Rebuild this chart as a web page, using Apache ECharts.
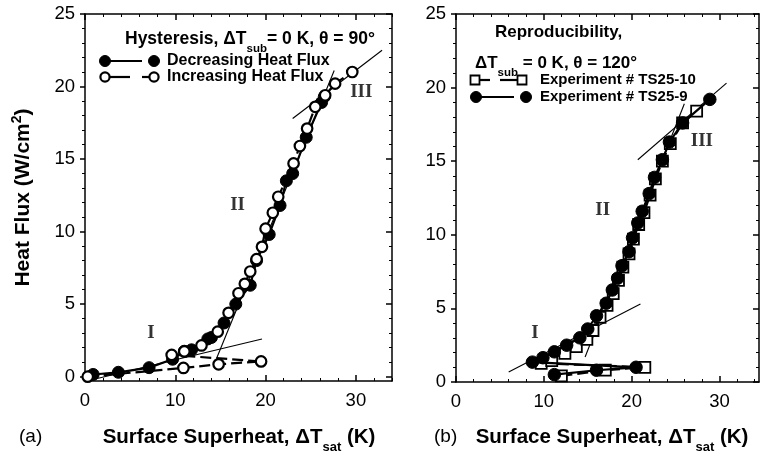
<!DOCTYPE html>
<html><head><meta charset="utf-8">
<script src="https://cdn.jsdelivr.net/npm/echarts@6/dist/echarts.min.js"></script>
<style>html,body{margin:0;padding:0;background:#fff}#c{width:763px;height:456px}</style>
</head><body><div id="c"></div>
<script>
// ---------- data ----------
const xTicks = [0, 10, 20, 30];
const xMinorTicks = [2, 4, 6, 8, 12, 14, 16, 18, 22, 24, 26, 28, 32, 34];
const yTicks = [0, 5, 10, 15, 20, 25];
const yMinorTicks = [1, 2, 3, 4, 6, 7, 8, 9, 11, 12, 13, 14, 16, 17, 18, 19, 21, 22, 23, 24];

// (a) Hysteresis
const decreasingHF = [[26.5,19.3],[26.2,18.9],[24.5,16.5],[23.0,14.0],[22.3,13.5],[21.6,11.8],[20.4,9.8],[19.0,8.0],[18.3,6.3],[16.7,5.0],[15.4,3.7],[14.0,2.7],[13.6,2.6],[11.8,1.85],[11.0,1.75],[9.7,1.2],[7.1,0.62],[3.7,0.3],[0.9,0.15]];
const increasingHF = [[0.3,0.0],[10.9,0.6],[14.8,0.85],[19.5,1.05],[9.6,1.5],[11.0,1.74],[12.9,2.15],[14.7,3.1],[15.9,4.4],[17.0,5.75],[17.7,6.4],[18.3,7.25],[19.0,8.1],[19.6,8.95],[20.0,10.2],[20.8,11.3],[21.4,12.4],[23.1,14.7],[23.8,15.9],[24.6,17.1],[25.5,18.6],[26.6,19.4],[27.7,20.2],[29.6,21.0]];
const fitA_I = [[0.2,-0.3],[19.6,2.6]];
const fitA_II = [[14.6,1.3],[27.6,21.1]];
const fitA_III = [[23.0,17.8],[32.9,22.5]];
const regionLabelsA = [['I',7.3,3.0],['II',16.9,11.8],['III',30.6,19.6]];

// (b) Reproducibility
const ts25_10 = [[12.0,0.42],[17.0,0.8],[21.5,1.0],[9.7,1.27],[10.9,1.45],[12.4,1.95],[13.7,2.4],[14.9,2.9],[15.6,3.5],[16.4,4.4],[17.2,5.2],[17.9,6.0],[18.5,6.9],[19.0,7.8],[19.7,8.7],[20.2,9.7],[20.8,10.7],[21.4,11.5],[22.1,12.7],[22.7,13.8],[23.5,15.0],[24.4,16.2],[25.8,17.6],[27.4,18.4]];
const ts25_9 = [[11.2,0.5],[16.0,0.8],[20.5,1.0],[8.7,1.35],[9.9,1.65],[11.2,2.05],[12.6,2.5],[14.1,3.0],[15.0,3.6],[16.0,4.5],[17.1,5.35],[17.8,6.25],[18.4,7.05],[18.9,7.9],[19.7,8.85],[20.1,9.8],[20.7,10.8],[21.2,11.6],[22.0,12.8],[22.6,13.9],[23.5,15.1],[24.3,16.3],[25.8,17.6],[28.9,19.2]];
const fitB_I = [[6.0,0.68],[21.0,5.3]];
const fitB_II = [[14.7,1.7],[26.0,18.9]];
const fitB_III = [[20.7,15.1],[30.8,20.3]];
const regionLabelsB = [['I',9.0,3.3],['II',16.7,11.7],['III',28.0,16.35]];

// ---------- styling ----------
const FF = '"Liberation Sans", Arial, sans-serif';
const SERIF = '"Liberation Serif", "Times New Roman", serif';
const K = '#000';

function xAxes(g, min, max) {
  const base = {type:'value', gridIndex:g, min:min, max:max, splitLine:{show:false}};
  return [
    Object.assign({}, base, {position:'bottom',
      axisLine:{show:true, onZero:false, lineStyle:{color:K, width:1.5}},
      axisTick:{show:true, inside:true, length:6, customValues:xTicks, lineStyle:{color:K, width:1.5}},
      axisLabel:{show:true, customValues:xTicks, color:K, fontSize:18.5, fontFamily:FF, margin:10}}),
    Object.assign({}, base, {position:'top',
      axisLine:{show:true, onZero:false, lineStyle:{color:K, width:1.5}},
      axisTick:{show:true, inside:true, length:6, customValues:xTicks, lineStyle:{color:K, width:1.5}},
      axisLabel:{show:false}}),
    Object.assign({}, base, {position:'bottom',
      axisLine:{show:false, onZero:false},
      axisTick:{show:true, inside:true, length:3, customValues:xMinorTicks, lineStyle:{color:K, width:1}},
      axisLabel:{show:false}}),
    Object.assign({}, base, {position:'top',
      axisLine:{show:false, onZero:false},
      axisTick:{show:true, inside:true, length:3, customValues:xMinorTicks, lineStyle:{color:K, width:1}},
      axisLabel:{show:false}})
  ];
}
function yAxes(g, min, max, withName) {
  const base = {type:'value', gridIndex:g, min:min, max:max, splitLine:{show:false}};
  const main = Object.assign({}, base, {position:'left',
      axisLine:{show:true, onZero:false, lineStyle:{color:K, width:1.5}},
      axisTick:{show:true, inside:false, length:5, customValues:yTicks, lineStyle:{color:K, width:1.5}},
      axisLabel:{show:true, customValues:yTicks, color:K, fontSize:18.5, fontFamily:FF, margin:10}});
  if (withName) {
    main.name = '{b|Heat Flux (W/cm}{p|2}{b|)}';
    main.nameLocation = 'middle';
    main.nameGap = 48;
    main.nameTextStyle = {rich:{
      b:{fontSize:21, fontWeight:'bold', fontFamily:FF, color:K},
      p:{fontSize:14, fontWeight:'bold', fontFamily:FF, color:K, padding:[0,0,13,0]}
    }};
  }
  return [
    main,
    Object.assign({}, base, {position:'right',
      axisLine:{show:true, onZero:false, lineStyle:{color:K, width:1.5}},
      axisTick:{show:true, inside:true, length:6, customValues:yTicks, lineStyle:{color:K, width:1.5}},
      axisLabel:{show:false}}),
    Object.assign({}, base, {position:'left',
      axisLine:{show:false, onZero:false},
      axisTick:{show:true, inside:false, length:3, customValues:yMinorTicks, lineStyle:{color:K, width:1}},
      axisLabel:{show:false}}),
    Object.assign({}, base, {position:'right',
      axisLine:{show:false, onZero:false},
      axisTick:{show:true, inside:true, length:3, customValues:yMinorTicks, lineStyle:{color:K, width:1}},
      axisLabel:{show:false}})
  ];
}

function dataSeries(ai, data, opt) {
  return {
    type:'line', xAxisIndex:ai, yAxisIndex:ai, data:data, silent:true,
    symbol:opt.symbol, symbolSize:opt.size, showSymbol:true, z:opt.z || 3,
    lineStyle:{color:K, width:2.2, type:opt.dash ? [11,5] : 'solid'},
    itemStyle:{color:opt.fill, borderColor:K, borderWidth:opt.bw}
  };
}
function fitSeries(ai, data) {
  return {type:'line', xAxisIndex:ai, yAxisIndex:ai, data:data, symbol:'none', silent:true, z:2,
    lineStyle:{color:K, width:1.1}};
}
function labelSeries(ai, labels) {
  return {type:'scatter', xAxisIndex:ai, yAxisIndex:ai, silent:true, z:5,
    symbol:'circle', symbolSize:1, itemStyle:{color:'rgba(0,0,0,0)'},
    data: labels.map(l => ({name:l[0], value:[l[1], l[2]]})),
    label:{show:true, position:'inside', formatter:'{b}', color:K, fontFamily:SERIF, fontWeight:'bold', fontSize:19}};
}

const richT = {
  b:{fontSize:17.5, fontWeight:'bold', fontFamily:FF, fill:K},
  s:{fontSize:11.5, fontWeight:'bold', fontFamily:FF, fill:K, padding:[20,0,0,0]}
};
const richTR = {
  b:{fontSize:17, fontWeight:'bold', fontFamily:FF, fill:K},
  s:{fontSize:11.5, fontWeight:'bold', fontFamily:FF, fill:K, padding:[20,0,0,0]}
};
const richX = {
  b:{fontSize:20.5, fontWeight:'bold', fontFamily:FF, fill:K},
  s:{fontSize:13, fontWeight:'bold', fontFamily:FF, fill:K, padding:[21,0,0,0]}
};
function txt(x, y, text, rich, align) {
  return {type:'text', x:x, y:y, silent:true, z:10,
    style:{text:text, rich:rich, textAlign:align || 'left', textVerticalAlign:'middle', verticalAlign:'middle', fill:K}};
}
function plain(x, y, text, size, weight) {
  return {type:'text', x:x, y:y, silent:true, z:10,
    style:{text:text, fontSize:size, fontWeight:weight, fontFamily:FF, fill:K, textAlign:'left', textVerticalAlign:'middle', verticalAlign:'middle'}};
}
function ln(x1, y1, x2, y2) {
  return {type:'line', silent:true, z:10, shape:{x1:x1, y1:y1, x2:x2, y2:y2}, style:{stroke:K, lineWidth:2.2}};
}
function dot(cx, cy, filled) {
  return {type:'circle', silent:true, z:11, shape:{cx:cx, cy:cy, r:filled ? 5.5 : 4.6},
    style:{fill:filled ? K : '#fff', stroke:K, lineWidth:filled ? 1 : 2.2}};
}
function sq(cx, cy) {
  return {type:'rect', silent:true, z:11, shape:{x:cx-4.5, y:cy-4.5, width:9, height:9},
    style:{fill:'#fff', stroke:K, lineWidth:1.8}};
}

const graphics = [
  // panel (a) legend
  txt(125, 39, '{b|Hysteresis, ΔT}{s|sub}{b|= 0 K, θ = 90°}', richT),
  ln(105, 61, 142, 61), dot(105, 61, true), dot(154, 61, true),
  plain(167, 61, 'Decreasing Heat Flux', 16, 'bold'),
  ln(105, 77, 130, 77), ln(142, 77, 154, 77), dot(105, 77, false), dot(154, 77, false),
  plain(167, 77, 'Increasing Heat Flux', 16, 'bold'),
  // panel (b) legend
  plain(495, 32, 'Reproducibility,', 17, 'bold'),
  txt(475, 63, '{b|ΔT}{s|sub}{b| = 0 K, θ = 120°}', richTR),
  ln(479, 80, 490, 80), ln(500, 80, 517, 80), sq(475, 80), sq(522, 80),
  plain(540, 80, 'Experiment # TS25-10', 15, 'bold'),
  ln(476, 97, 514, 97), dot(476, 97, true), dot(526, 97, true),
  plain(540, 97, 'Experiment # TS25-9', 15, 'bold'),
  // axis titles & panel tags
  txt(239, 437, '{b|Surface Superheat, ΔT}{s|sat}{b| (K)}', richX, 'center'),
  txt(612, 437, '{b|Surface Superheat, ΔT}{s|sat}{b| (K)}', richX, 'center'),
  plain(19, 437, '(a)', 19, 'normal'),
  plain(434, 437, '(b)', 19, 'normal')
];

const option = {
  animation:false,
  backgroundColor:'#fff',
  grid:[
    {left:85, top:14, width:307, height:367},
    {left:456, top:14, width:303, height:368}
  ],
  xAxis: xAxes(0, 0, 34).concat(xAxes(1, 0, 34.5)),
  yAxis: yAxes(0, -0.3, 25, true).concat(yAxes(1, 0, 25, false)),
  series:[
    fitSeries(0, fitA_I), fitSeries(0, fitA_II), fitSeries(0, fitA_III),
    dataSeries(0, decreasingHF, {symbol:'circle', size:12, fill:K, bw:1, z:3}),
    dataSeries(0, increasingHF, {symbol:'circle', size:10.5, fill:'#fff', bw:2.2, dash:true, z:4}),
    labelSeries(0, regionLabelsA),
    fitSeries(4, fitB_I), fitSeries(4, fitB_II), fitSeries(4, fitB_III),
    dataSeries(4, ts25_10, {symbol:'rect', size:11, fill:'#fff', bw:1.8, dash:true, z:3}),
    dataSeries(4, ts25_9, {symbol:'circle', size:12.5, fill:K, bw:1, z:4}),
    labelSeries(4, regionLabelsB)
  ],
  graphic: graphics
};
const chart = echarts.init(document.getElementById('c'), null, {renderer:'canvas'});
chart.setOption(option);
</script></body></html>
